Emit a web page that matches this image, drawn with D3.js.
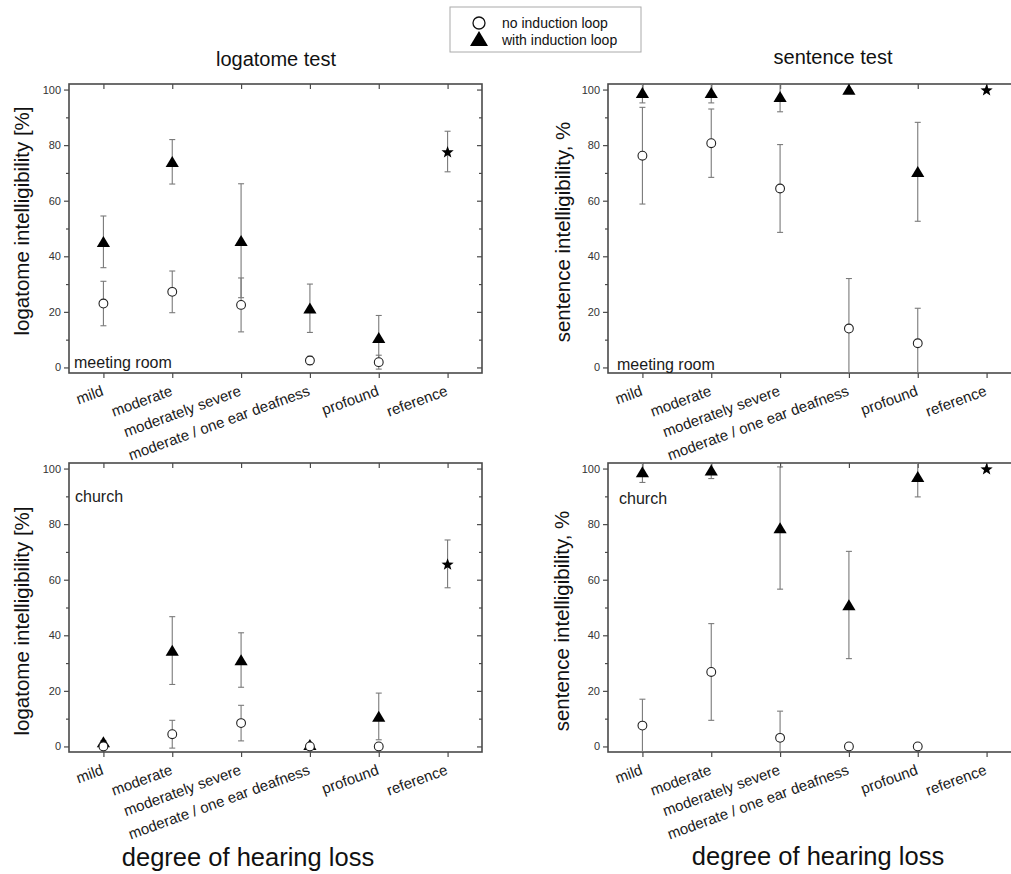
<!DOCTYPE html>
<html>
<head>
<meta charset="utf-8">
<script src="https://cdn.jsdelivr.net/npm/d3@7/dist/d3.min.js"></script>
<style>
  html, body { margin: 0; padding: 0; background: #fff; }
  svg { display: block; font-family: "Liberation Sans", Arial, sans-serif; }
</style>
</head>
<body>
<svg id="chart" width="1011" height="874"></svg>
<script>
// ---- data ----
const categories = ["mild", "moderate", "moderately severe", "moderate / one ear deafness", "profound", "reference"];
const yTicks = [0, 20, 40, 60, 80, 100];
const yMinorTicks = [10, 30, 50, 70, 90];

// logatome test, meeting room
const logMeetNo      = [23.0, 27.2, 22.5, 2.5, 1.9, null];
const logMeetNoErr   = [8.0, 7.5, 9.7, 1.5, 2.5, null];
const logMeetWith    = [45.2, 74.0, 45.6, 21.3, 10.7, null];
const logMeetWithErr = [9.3, 8.0, 20.5, 8.7, 8.0, null];
const logMeetRef     = [null, null, null, null, null, 77.7];
const logMeetRefErr  = [null, null, null, null, null, 7.3];

// sentence test, meeting room
const sentMeetNo      = [76.2, 80.7, 64.4, 14.0, 8.7, null];
const sentMeetNoErr   = [17.4, 12.3, 15.8, 18.0, 12.6, null];
const sentMeetWith    = [98.8, 98.8, 97.4, 100.0, 70.4, null];
const sentMeetWithErr = [3.6, 3.6, 5.4, 0, 17.8, null];
const sentMeetRef     = [null, null, null, null, null, 100.0];
const sentMeetRefErr  = [null, null, null, null, null, 0];

// logatome test, church
const logChurchNo      = [0.0, 4.4, 8.4, 0.0, 0.0, null];
const logChurchNoErr   = [0.8, 5.0, 6.4, 0.6, 0.6, null];
const logChurchWith    = [1.6, 34.5, 31.1, 0.6, 10.8, null];
const logChurchWithErr = [0.5, 12.2, 9.8, 0, 8.4, null];
const logChurchRef     = [null, null, null, null, null, 65.7];
const logChurchRefErr  = [null, null, null, null, null, 8.6];

// sentence test, church
const sentChurchNo      = [7.5, 26.8, 3.1, 0.0, 0.0, null];
const sentChurchNoErr   = [9.5, 17.4, 9.6, 0, 0, null];
const sentChurchWith    = [98.7, 99.4, 78.6, 50.9, 97.0, null];
const sentChurchWithErr = [3.7, 3.0, 22.0, 19.3, 7.2, null];
const sentChurchRef     = [null, null, null, null, null, 100.0];
const sentChurchRefErr  = [null, null, null, null, null, 0];

// ---- layout ----
const svg = d3.select("#chart");
const FONT = "'Liberation Sans', Arial, sans-serif";

const panels = [
  { id: "p1", left: 69, right: 482, top: 84, bottom: 373, ylabel: "logatome intelligibility [%]", ylx: 22, yly: 221, note: "meeting room", nx: 74, ny: 368,
    no: logMeetNo, noErr: logMeetNoErr, wi: logMeetWith, wiErr: logMeetWithErr, ref: logMeetRef, refErr: logMeetRefErr },
  { id: "p2", left: 608, right: 1021, top: 84, bottom: 373, ylabel: "sentence intelligibility, %", ylx: 563, yly: 232, note: "meeting room", nx: 617, ny: 370,
    no: sentMeetNo, noErr: sentMeetNoErr, wi: sentMeetWith, wiErr: sentMeetWithErr, ref: sentMeetRef, refErr: sentMeetRefErr },
  { id: "p3", left: 69, right: 482, top: 463, bottom: 752, ylabel: "logatome intelligibility [%]", ylx: 22, yly: 621, note: "church", nx: 75, ny: 502,
    no: logChurchNo, noErr: logChurchNoErr, wi: logChurchWith, wiErr: logChurchWithErr, ref: logChurchRef, refErr: logChurchRefErr },
  { id: "p4", left: 608, right: 1021, top: 463, bottom: 752, ylabel: "sentence intelligibility, %", ylx: 562, yly: 621, note: "church", nx: 619, ny: 504,
    no: sentChurchNo, noErr: sentChurchNoErr, wi: sentChurchWith, wiErr: sentChurchWithErr, ref: sentChurchRef, refErr: sentChurchRefErr }
];

const triPath = "M0,-5.8 L6.6,5.2 L-6.6,5.2 Z";
function starPath(R, r) {
  let p = [];
  for (let i = 0; i < 10; i++) {
    const a = -Math.PI / 2 + i * Math.PI / 5;
    const rad = i % 2 === 0 ? R : r;
    p.push([rad * Math.cos(a), rad * Math.sin(a)]);
  }
  return "M" + p.map(d => d[0].toFixed(2) + "," + d[1].toFixed(2)).join("L") + "Z";
}

const defs = svg.append("defs");

panels.forEach(P => {
  const x = d3.scalePoint().domain(categories).range([P.left, P.right]).padding(0.5);
  const y = d3.scaleLinear().domain([-2, 102]).range([P.bottom, P.top]);
  const g = svg.append("g");

  defs.append("clipPath").attr("id", "clip-" + P.id)
    .append("rect").attr("x", P.left).attr("y", P.top)
    .attr("width", P.right - P.left).attr("height", P.bottom - P.top);

  // axes
  const axColor = "#4a4a4a";
  const bottomAx = g.append("g").attr("transform", `translate(0,${P.bottom})`)
    .call(d3.axisBottom(x).tickSize(5).tickSizeOuter(0).tickFormat(""));
  const topAx = g.append("g").attr("transform", `translate(0,${P.top})`)
    .call(d3.axisBottom(x).tickSize(5).tickSizeOuter(0).tickFormat(""));
  const leftAx = g.append("g").attr("transform", `translate(${P.left},0)`)
    .call(d3.axisLeft(y).tickValues(yTicks).tickSize(5).tickSizeOuter(0).tickPadding(3));
  const leftMinor = g.append("g").attr("transform", `translate(${P.left},0)`)
    .call(d3.axisLeft(y).tickValues(yMinorTicks).tickSize(3).tickSizeOuter(0).tickFormat(""));
  const rightAx = g.append("g").attr("transform", `translate(${P.right},0)`)
    .call(d3.axisLeft(y).tickValues(yTicks).tickSize(5).tickSizeOuter(0).tickFormat(""));
  const rightMinor = g.append("g").attr("transform", `translate(${P.right},0)`)
    .call(d3.axisLeft(y).tickValues(yMinorTicks).tickSize(3).tickSizeOuter(0).tickFormat(""));

  [bottomAx, topAx, leftAx, leftMinor, rightAx, rightMinor].forEach(a => {
    a.attr("color", "#333");
    a.select(".domain").remove();
    a.selectAll(".tick line").attr("stroke", axColor).attr("stroke-width", 1.2);
  });
  // mirror ticks point inward on top and right
  topAx.selectAll(".tick line").attr("y2", 5);
  rightAx.selectAll(".tick line").attr("x2", -5);
  rightMinor.selectAll(".tick line").attr("x2", -3);
  leftAx.selectAll(".tick text").attr("font-size", 11).attr("fill", "#333").attr("font-family", FONT);

  // frame
  g.append("rect").attr("x", P.left).attr("y", P.top)
    .attr("width", P.right - P.left).attr("height", P.bottom - P.top)
    .attr("fill", "none").attr("stroke", axColor).attr("stroke-width", 1.6);

  // x tick labels, rotated
  categories.forEach(c => {
    g.append("text")
      .attr("transform", `translate(${x(c) + 1},${P.bottom + 22}) rotate(-20)`)
      .attr("text-anchor", "end")
      .attr("font-size", 15).attr("fill", "#1a1a1a").attr("font-family", FONT)
      .text(c);
  });

  // y label
  g.append("text")
    .attr("transform", `translate(${P.ylx + 7},${P.yly}) rotate(-90)`)
    .attr("text-anchor", "middle")
    .attr("font-size", 20.5).attr("fill", "#111").attr("font-family", FONT)
    .text(P.ylabel);

  // note
  g.append("text").attr("x", P.nx).attr("y", P.ny)
    .attr("font-size", 16).attr("fill", "#1a1a1a").attr("font-family", FONT)
    .text(P.note);

  // error bars (clipped)
  const eg = g.append("g").attr("clip-path", `url(#clip-${P.id})`)
    .attr("stroke", "#7a7a7a").attr("stroke-width", 1.1);
  const series = [[P.no, P.noErr], [P.wi, P.wiErr], [P.ref, P.refErr]];
  series.forEach(([vals, errs]) => {
    categories.forEach((c, i) => {
      const v = vals[i], e = errs[i];
      if (v == null || e == null || e === 0) return;
      const cx = x(c);
      eg.append("line").attr("x1", cx).attr("x2", cx).attr("y1", y(v + e)).attr("y2", y(v - e));
      eg.append("line").attr("x1", cx - 3).attr("x2", cx + 3).attr("y1", y(v + e)).attr("y2", y(v + e));
      eg.append("line").attr("x1", cx - 3).attr("x2", cx + 3).attr("y1", y(v - e)).attr("y2", y(v - e));
    });
  });

  // markers
  categories.forEach((c, i) => {
    if (P.wi[i] != null)
      g.append("path").attr("d", triPath).attr("transform", `translate(${x(c)},${y(P.wi[i])})`).attr("fill", "#000");
  });
  categories.forEach((c, i) => {
    if (P.no[i] != null)
      g.append("circle").attr("cx", x(c)).attr("cy", y(P.no[i])).attr("r", 4.4)
        .attr("fill", "#fff").attr("stroke", "#222").attr("stroke-width", 1.1);
  });
  categories.forEach((c, i) => {
    if (P.ref[i] != null)
      g.append("path").attr("d", starPath(6.4, 2.7)).attr("transform", `translate(${x(c)},${y(P.ref[i]) + 0.8})`).attr("fill", "#000");
  });
});

// titles
svg.append("text").attr("x", 276).attr("y", 66).attr("text-anchor", "middle")
  .attr("font-size", 20).attr("fill", "#111").attr("font-family", FONT).text("logatome test");
svg.append("text").attr("x", 833).attr("y", 64).attr("text-anchor", "middle")
  .attr("font-size", 20).attr("fill", "#111").attr("font-family", FONT).text("sentence test");

svg.append("text").attr("x", 248).attr("y", 866).attr("text-anchor", "middle")
  .attr("font-size", 25.5).attr("fill", "#111").attr("font-family", FONT).text("degree of hearing loss");
svg.append("text").attr("x", 818).attr("y", 865).attr("text-anchor", "middle")
  .attr("font-size", 25.5).attr("fill", "#111").attr("font-family", FONT).text("degree of hearing loss");

// legend
const lg = svg.append("g");
lg.append("rect").attr("x", 450).attr("y", 7).attr("width", 191).attr("height", 45)
  .attr("fill", "#fff").attr("stroke", "#aaa").attr("stroke-width", 1);
lg.append("circle").attr("cx", 479).attr("cy", 23).attr("r", 6)
  .attr("fill", "#fff").attr("stroke", "#111").attr("stroke-width", 1.3);
lg.append("path").attr("d", "M0,-8 L9,7 L-9,7 Z").attr("transform", "translate(479,39)").attr("fill", "#000");
lg.append("text").attr("x", 502).attr("y", 28).attr("font-size", 14).attr("fill", "#111").attr("font-family", FONT).text("no induction loop");
lg.append("text").attr("x", 502).attr("y", 45).attr("font-size", 14).attr("fill", "#111").attr("font-family", FONT).text("with induction loop");
</script>
</body>
</html>
